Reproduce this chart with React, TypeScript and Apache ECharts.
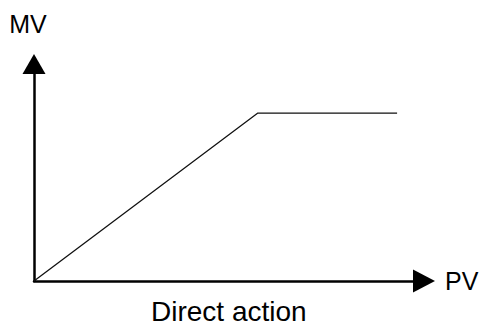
import React, { useEffect, useRef } from "react";
import * as echarts from "echarts";

// Data in axis units (PV on x, MV on y)
const pvValues = [0, 57.4, 93.1];
const mvValues = [0, 77.4, 77.4];
const xAxisName = "PV";
const yAxisName = "MV";
const caption = "Direct action";

export default function App() {
  const ref = useRef<HTMLDivElement>(null);
  useEffect(() => {
    if (!ref.current) return;
    const chart = echarts.init(ref.current, undefined, { renderer: "svg" });
    const font = "'Liberation Sans', Arial, sans-serif";
    chart.setOption({
      animation: false,
      backgroundColor: "#ffffff",
      title: {
        text: caption,
        left: 151,
        top: 297,
        padding: 0,
        textStyle: { fontFamily: font, fontSize: 28, fontWeight: "normal", color: "#000" },
      },
      grid: { left: 34, right: 57, top: 64, bottom: 46, containLabel: false, outerBoundsMode: "none" },
      xAxis: {
        type: "value",
        min: 0,
        max: 100,
        name: xAxisName,
        nameLocation: "end",
        nameGap: 21,
        nameTextStyle: { fontFamily: font, fontSize: 25, color: "#000" },
        axisLine: {
          show: true,
          onZero: false,
          symbol: ["none", "triangle"],
          symbolSize: [23, 22],
          lineStyle: { color: "#000", width: 2.5 },
        },
        axisTick: { show: false },
        axisLabel: { show: false },
        splitLine: { show: false },
      },
      yAxis: {
        type: "value",
        min: 0,
        max: 100,
        name: yAxisName,
        nameLocation: "end",
        nameGap: 28,
        nameTextStyle: { fontFamily: font, fontSize: 25, color: "#000", padding: [0, 12, 0, 0] },
        axisLine: {
          show: true,
          onZero: false,
          symbol: ["none", "triangle"],
          symbolSize: [23, 20],
          lineStyle: { color: "#000", width: 2.5 },
        },
        axisTick: { show: false },
        axisLabel: { show: false },
        splitLine: { show: false },
      },
      series: [
        {
          type: "line",
          data: pvValues.map((x, i) => [x, mvValues[i]]),
          showSymbol: false,
          symbol: "none",
          lineStyle: { color: "#111", width: 1.3 },
        },
      ],
    });
    return () => chart.dispose();
  }, []);
  return (
    <div
      ref={ref}
      style={{ position: "fixed", left: 0, top: 0, width: 481, height: 327 }}
    />
  );
}
